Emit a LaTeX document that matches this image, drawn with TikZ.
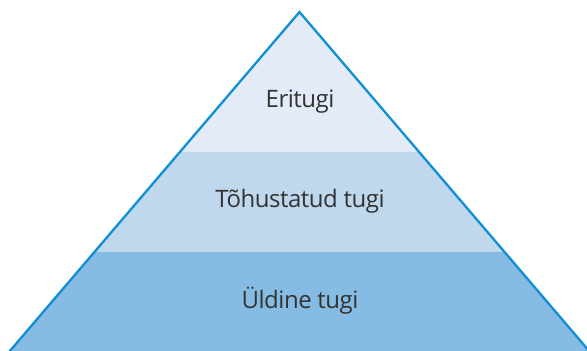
\documentclass[tikz,border=0pt]{standalone}
\usepackage{fontspec}
\setmainfont{Open Sans}
\begin{document}
\begin{tikzpicture}[x=1pt,y=-1pt,
  lbl/.style={font=\fontsize{24}{28}\selectfont\addfontfeature{LetterSpace=-2}, text=black!80}]
\useasboundingbox (0,0) rectangle (587,351);
\definecolor{cTop}{HTML}{E3EBF8}
\definecolor{cMid}{HTML}{C0D8EE}
\definecolor{cBot}{HTML}{86BCE4}
\definecolor{cEdge}{HTML}{0F8FD4}
\coordinate (A) at (299.5,12);
\coordinate (L) at (9,352);
\coordinate (R) at (590,352);
% band boundaries
\path (A) -- (L) coordinate[pos=0.411] (L1) coordinate[pos=0.706] (L2);
\path (A) -- (R) coordinate[pos=0.411] (R1) coordinate[pos=0.706] (R2);
\fill[cTop] (A) -- (L1) -- (R1) -- cycle;
\fill[cMid] (L1) -- (L2) -- (R2) -- (R1) -- cycle;
\fill[cBot] (L2) -- (L) -- (R) -- (R2) -- cycle;
\draw[draw=cEdge, line width=2.3pt, line join=miter] (L) -- (A) -- (R);
\node[lbl] (t1) at (300,102) {Eritugi};
\node[lbl] (t2) at (300,201) {Tõhustatud tugi};
\node[lbl] (t3) at (300,301) {Üldine tugi};
\end{tikzpicture}
\end{document}
